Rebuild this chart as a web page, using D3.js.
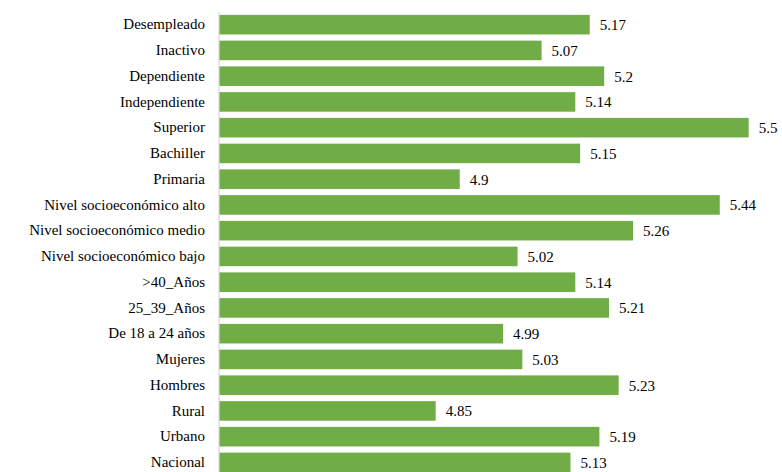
<!DOCTYPE html>
<html>
<head>
<meta charset="utf-8">
<script src="https://cdn.jsdelivr.net/npm/d3@7"></script>
</head>
<body style="margin:0">
<div id="wrap"></div>
<script>
// Categories, top to bottom
const categories = [
  "Desempleado", "Inactivo", "Dependiente", "Independiente", "Superior",
  "Bachiller", "Primaria", "Nivel socioeconómico alto", "Nivel socioeconómico medio",
  "Nivel socioeconómico bajo", ">40_Años", "25_39_Años", "De 18 a 24 años",
  "Mujeres", "Hombres", "Rural", "Urbano", "Nacional"
];
const values = [
  5.17, 5.07, 5.2, 5.14, 5.5,
  5.15, 4.9, 5.44, 5.26,
  5.02, 5.14, 5.21, 4.99,
  5.03, 5.23, 4.85, 5.19, 5.13
];
const valueLabels = [
  "5.17", "5.07", "5.2", "5.14", "5.5",
  "5.15", "4.9", "5.44", "5.26",
  "5.02", "5.14", "5.21", "4.99",
  "5.03", "5.23", "4.85", "5.19", "5.13"
];

const data = categories.map((c, i) => ({ cat: c, value: values[i], label: valueLabels[i] }));

const fontStack = "Liberation Serif, Times New Roman, Tinos, Times, serif";
const svg = d3.select("#wrap").append("svg")
  .attr("width", 782)
  .attr("height", 472)
  .attr("font-family", fontStack)
  .style("display", "block");

const left = 219;

const x = d3.scaleLinear().domain([4.4, 5.6]).range([left, left + 1.2 * 481.5]);
const y = d3.scaleBand()
  .domain(categories)
  .range([11.8, 11.8 + 25.75 * categories.length])
  .paddingInner(0.24)
  .paddingOuter(0.12);

// Bars
svg.append("g").selectAll("rect")
  .data(data)
  .join("rect")
  .attr("x", x(4.4))
  .attr("y", d => y(d.cat))
  .attr("width", d => x(d.value) - x(4.4))
  .attr("height", y.bandwidth())
  .attr("fill", "#70ad47");

// Category labels, right-aligned against the baseline of the bars
svg.append("g").selectAll("text")
  .data(data)
  .join("text")
  .attr("x", left - 14)
  .attr("y", d => y(d.cat) + y.bandwidth() / 2)
  .attr("dy", "0.32em")
  .attr("text-anchor", "end")
  .attr("font-family", fontStack)
  .attr("font-size", 15)
  .attr("fill", "#000")
  .text(d => d.cat);

// Baseline
svg.append("line")
  .attr("x1", left).attr("x2", left)
  .attr("y1", y.range()[0]).attr("y2", y.range()[1])
  .attr("stroke", "#d9d9d9")
  .attr("stroke-width", 1.3);

// Value labels
svg.append("g").selectAll("text")
  .data(data)
  .join("text")
  .attr("x", d => x(d.value) + 10)
  .attr("y", d => y(d.cat) + y.bandwidth() / 2)
  .attr("dy", "0.36em")
  .attr("font-family", fontStack)
  .attr("font-size", 15)
  .attr("fill", "#000")
  .text(d => d.label);
</script>
</body>
</html>
